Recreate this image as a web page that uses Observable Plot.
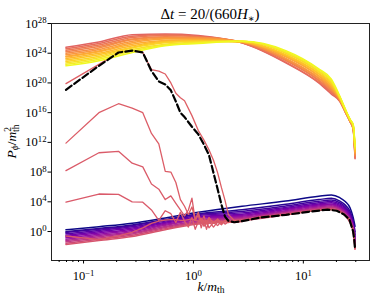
<!DOCTYPE html>
<html>
<head>
<meta charset="utf-8">
<script src="https://cdn.jsdelivr.net/npm/d3@7"></script>
<script src="https://cdn.jsdelivr.net/npm/@observablehq/plot@0.6"></script>
<style>
  html, body { margin: 0; padding: 0; background: #fff; }
</style>
</head>
<body>
<div id="chart"></div>
<script>
// ---------- data (log10 of P_phi / m_th^2) ----------
const xTicks = [0.1, 1, 10];
const xMinor = [0.06, 0.07, 0.08, 0.09, 0.2, 0.3, 0.4, 0.5, 0.6, 0.7, 0.8, 0.9, 2, 3, 4, 5, 6, 7, 8, 9, 20, 30];
const yTicks = [1e0, 1e4, 1e8, 1e12, 1e16, 1e20, 1e24, 1e28];

// k grid of the two bands of snapshots
const bandK = [0.0692, 0.138, 0.277, 0.554, 1.107, 2.77, 6.92, 13.8, 18.0, 21.5, 24.2, 26.6, 28.4, 29.55];

// early snapshots (bottom band), colour position in the time colormap
const earlyTimes = [0, 0.05, 0.1, 0.15, 0.2, 0.25, 0.3, 0.35, 0.4, 0.45, 0.5, 0.55];
const earlyLogP = [
  [0.23, 0.65, 1.12, 1.83, 2.58, 3.40, 4.10, 4.75, 4.92, 4.55, 4.00, 3.20, 1.90, 0.70],
  [-0.03, 0.41, 0.89, 1.62, 2.37, 2.94, 3.66, 4.30, 4.47, 4.10, 3.54, 2.73, 1.45, -0.03],
  [-0.13, 0.31, 0.79, 1.54, 2.29, 2.70, 3.43, 4.07, 4.23, 3.87, 3.30, 2.48, 1.22, -0.42],
  [-0.31, 0.15, 0.63, 1.40, 2.15, 2.51, 3.25, 3.88, 4.04, 3.68, 3.11, 2.28, 1.03, -0.72],
  [-0.49, -0.02, 0.47, 1.26, 2.00, 2.34, 3.09, 3.71, 3.87, 3.51, 2.94, 2.11, 0.86, -0.99],
  [-0.67, -0.19, 0.31, 1.11, 1.86, 2.19, 2.95, 3.57, 3.72, 3.37, 2.79, 1.95, 0.72, -1.23],
  [-0.85, -0.36, 0.14, 0.97, 1.72, 2.05, 2.81, 3.43, 3.59, 3.23, 2.65, 1.81, 0.58, -1.46],
  [-1.03, -0.53, -0.02, 0.83, 1.58, 1.91, 2.69, 3.30, 3.46, 3.10, 2.51, 1.68, 0.45, -1.66],
  [-1.21, -0.70, -0.18, 0.68, 1.43, 1.79, 2.57, 3.18, 3.33, 2.98, 2.39, 1.55, 0.33, -1.86],
  [-1.39, -0.86, -0.34, 0.54, 1.29, 1.67, 2.46, 3.07, 3.22, 2.87, 2.27, 1.43, 0.22, -2.05],
  [-1.57, -1.03, -0.51, 0.39, 1.14, 1.56, 2.35, 2.96, 3.11, 2.76, 2.16, 1.31, 0.11, -2.23],
  [-1.75, -1.20, -0.67, 0.25, 1.00, 1.45, 2.25, 2.85, 3.00, 2.65, 2.05, 1.20, 0.00, -2.40]
];

// late snapshots (top band)
const lateTimes = [0.6, 0.631, 0.662, 0.692, 0.723, 0.754, 0.785, 0.815, 0.846, 0.877, 0.908, 0.938, 0.969, 1.0];
const lateLogP = [
  [24.8, 25.5, 26.5, 26.6, 26.4, 25.4, 22.7, 20.0, 18.5, 17.5, 16.0, 14.8, 13.8, 9.8],
  [24.6, 25.3, 26.3, 26.5, 26.3, 25.4, 22.8, 20.1, 18.7, 17.6, 16.0, 14.8, 13.8, 9.9],
  [24.4, 25.1, 26.1, 26.4, 26.2, 25.4, 23.0, 20.3, 18.8, 17.6, 16.1, 14.8, 13.9, 10.1],
  [24.2, 24.9, 25.9, 26.2, 26.1, 25.5, 23.1, 20.4, 19.0, 17.7, 16.1, 14.9, 13.9, 10.2],
  [24.0, 24.7, 25.8, 26.1, 26.1, 25.5, 23.2, 20.6, 19.1, 17.7, 16.1, 14.9, 14.0, 10.3],
  [23.8, 24.5, 25.6, 26.0, 26.0, 25.5, 23.3, 20.7, 19.3, 17.8, 16.2, 14.9, 14.0, 10.5],
  [23.6, 24.3, 25.4, 25.9, 25.9, 25.5, 23.5, 20.9, 19.4, 17.8, 16.2, 14.9, 14.1, 10.6],
  [23.5, 24.2, 25.2, 25.7, 25.8, 25.5, 23.6, 21.0, 19.6, 17.9, 16.2, 15.0, 14.1, 10.7],
  [23.3, 24.0, 25.0, 25.6, 25.7, 25.5, 23.7, 21.2, 19.7, 17.9, 16.2, 15.0, 14.2, 10.8],
  [23.1, 23.8, 24.8, 25.5, 25.6, 25.5, 23.8, 21.3, 19.9, 18.0, 16.3, 15.0, 14.2, 11.0],
  [22.9, 23.6, 24.7, 25.4, 25.6, 25.6, 24.0, 21.5, 20.0, 18.0, 16.3, 15.0, 14.3, 11.1],
  [22.7, 23.4, 24.5, 25.2, 25.5, 25.6, 24.1, 21.6, 20.2, 18.1, 16.3, 15.1, 14.3, 11.2],
  [22.5, 23.2, 24.3, 25.1, 25.4, 25.6, 24.2, 21.8, 20.3, 18.1, 16.4, 15.1, 14.4, 11.4],
  [22.3, 23.0, 24.1, 25.0, 25.3, 25.6, 24.35, 21.9, 20.5, 18.2, 16.4, 15.1, 14.4, 11.5]
];

// intermediate (growing) snapshots on the low-k grid
const midK = [0.0692, 0.138, 0.208, 0.277, 0.346, 0.415, 0.484, 0.554, 0.623, 0.692, 0.761, 0.830, 0.900, 0.969,
              1.038, 1.107, 1.177, 1.246, 1.315, 1.384, 1.522, 1.661, 1.799, 1.938, 2.076, 2.35, 2.77];
const midTimes = [0.56, 0.565, 0.57, 0.575];
const midLogP = [
  [-0.6, -1.1, -0.6, -0.1, 0.5, 1.1, 1.4, 1.55, 1.6, 1.6, 1.5, 1.5, 1.6, 1.7, 1.5, 1.4, 1.6, 1.2, 1.5, 1.6, 1.3, 1.5, 1.3, 1.4, 1.4, 1.3, 1.4],
  [3.95, 5.05, 5.0, 4.0, 3.95, 2.9, 1.5, 2.8, 2.4, 1.2, 2.6, 1.4, 0.6, 1.9, 0.3, 1.3, 1.8, 0.7, 1.3, 0.5, 1.2, 0.8, 1.4, 1.0, 1.3, 1.2, 1.35],
  [8.2, 10.6, 10.8, 9.2, 8.7, 6.4, 5.7, 4.3, 4.8, 3.8, 2.9, 2.1, 2.9, 4.5, 1.5, 2.2, 0.5, 1.6, 0.3, 1.4, 0.6, 1.3, 0.9, 1.5, 1.3, 1.3, 1.4],
  [11.9, 16.0, 17.2, 16.6, 16.0, 13.2, 11.8, 8.1, 8.0, 6.6, 4.3, 3.4, 2.3, 3.3, 1.6, 2.6, 1.2, 2.1, 1.0, 1.9, 1.1, 1.7, 1.0, 1.5, 1.2, 1.4, 1.4]
];

// full-range grid for the last growing snapshot and the highlighted (dashed) one
const fullK = [0.0692, 0.138, 0.208, 0.277, 0.346, 0.415, 0.484, 0.554, 0.623, 0.692, 0.761, 0.830, 0.969, 1.107,
               1.246, 1.384, 1.522, 1.661, 1.799, 1.938, 2.076, 2.35, 2.77, 4.15, 6.92, 11.07, 16.6, 20.1, 23.5, 26.3, 28.4, 29.1, 29.55];
const lastMidTime = 0.585;
const lastMidLogP = [19.9, 22.5, 24.1, 24.4, 24.1, 21.8, 21.6, 21.2, 20.0, 18.6, 18.0, 17.6, 15.6, 13.6,
                     12.3, 11.0, 9.6, 7.9, 5.9, 4.2, 2.3, 1.5, 1.5, 2.0, 2.3, 2.7, 3.0, 2.85, 2.35, 1.65, 0.1, -1.1, -2.3];
const dashedLogP = [19.07, 22.3, 24.1, 24.35, 24.1, 21.6, 20.2, 19.8, 19.0, 17.5, 16.0, 15.4, 14.1, 13.1,
                    11.7, 10.3, 7.9, 5.7, 3.6, 2.0, 1.45, 1.25, 1.4, 1.9, 2.25, 2.65, 2.95, 2.8, 2.3, 1.6, 0.0, -1.2, -2.35];

// ---------- build tables ----------
const bottomRows = [], middleRows = [], topRows = [], dashedRows = [];
earlyLogP.forEach((r, i) => r.forEach((v, j) => bottomRows.push({id: "e" + i, t: earlyTimes[i], k: bandK[j], P: Math.pow(10, v)})));
midLogP.forEach((r, i) => r.forEach((v, j) => middleRows.push({id: "m" + i, t: midTimes[i], k: midK[j], P: Math.pow(10, v)})));
lastMidLogP.forEach((v, j) => middleRows.push({id: "mlast", t: lastMidTime, k: fullK[j], P: Math.pow(10, v)}));
lateLogP.forEach((r, i) => r.forEach((v, j) => topRows.push({id: "l" + i, t: lateTimes[i], k: bandK[j], P: Math.pow(10, v)})));
dashedLogP.forEach((v, j) => dashedRows.push({k: fullK[j], P: Math.pow(10, v)}));

const FONT = "'Liberation Serif', 'DejaVu Serif', serif";

const chart = Plot.plot({
  width: 376,
  height: 300,
  marginLeft: 51,
  marginRight: 7,
  marginTop: 23,
  marginBottom: 40,
  style: {fontFamily: FONT, fontSize: "12.5px", background: "white", color: "#000"},
  x: {type: "log", domain: [Math.pow(10, -1.2915), Math.pow(10, 1.602)]},
  y: {type: "log", domain: [Math.pow(10, -3.9), 1e28]},
  color: {type: "linear", scheme: "plasma", domain: [0, 1]},
  marks: [
    Plot.line(bottomRows, {x: "k", y: "P", z: "id", stroke: "t", strokeWidth: 1.5, curve: "monotone-x"}),
    Plot.line(middleRows, {x: "k", y: "P", z: "id", stroke: "t", strokeWidth: 1.3}),
    Plot.line(topRows, {x: "k", y: "P", z: "id", stroke: "t", strokeWidth: 1.5, curve: "monotone-x"}),
    Plot.line(dashedRows, {x: "k", y: "P", stroke: "#000", strokeWidth: 2.2, strokeDasharray: "7,3.2"}),
    Plot.frame({stroke: "#222", strokeWidth: 1}),
    Plot.axisX({ticks: xMinor, tickSize: 2, tickFormat: () => "", label: null}),
    Plot.axisX({ticks: xTicks, tickSize: 3.5, tickPadding: 7, label: null,
                tickFormat: d => String(Math.round(Math.log10(d))).replace("-", "\u2212")}),
    Plot.axisY({ticks: yTicks, tickSize: 3.5, tickPadding: 1.5, label: null,
                tickFormat: d => String(Math.round(Math.log10(d)))})
  ]
});

document.getElementById("chart").appendChild(chart);

// ---------- exponent tick labels and math-style labels ----------
const svgSel = d3.select(chart);
svgSel.selectAll('g[aria-label="x-axis tick label"] text, g[aria-label="y-axis tick label"] text').each(function () {
  const s = this.textContent;
  if (!s) return;
  const t = d3.select(this);
  t.text(null);
  t.append("tspan").text("10");
  t.append("tspan").attr("dy", "-0.5em").attr("font-size", "0.7em").text(s);
});

// title
const titleSel = svgSel.append("text").attr("x", 210).attr("y", 19).attr("text-anchor", "middle")
  .attr("font-family", FONT).attr("font-size", 15).attr("fill", "#000");
titleSel.append("tspan").text("\u0394");
titleSel.append("tspan").attr("font-style", "italic").text("t");
titleSel.append("tspan").text(" = 20/(660");
titleSel.append("tspan").attr("font-style", "italic").text("H");
titleSel.append("tspan").attr("font-size", 10).attr("dy", 3).text("\u2217");
titleSel.append("tspan").attr("dy", -3).text(")");

// x label
const xl = svgSel.append("text").attr("x", 211).attr("y", 290.5).attr("text-anchor", "middle")
  .attr("font-family", FONT).attr("font-size", 13.5).attr("fill", "#000");
xl.append("tspan").attr("font-style", "italic").text("k");
xl.append("tspan").text("/");
xl.append("tspan").attr("font-style", "italic").text("m");
xl.append("tspan").attr("font-size", 9.5).attr("dy", 2.5).text("th");

// y label
const yl = svgSel.append("text").attr("transform", "translate(15.5,141.5) rotate(-90)").attr("text-anchor", "middle")
  .attr("font-family", FONT).attr("font-size", 13.5).attr("fill", "#000");
yl.append("tspan").attr("font-style", "italic").text("P");
yl.append("tspan").attr("font-style", "italic").attr("font-size", 9.5).attr("dy", 2.5).text("\u03d5");
yl.append("tspan").attr("dy", -2.5).text("/");
yl.append("tspan").attr("font-style", "italic").text("m");
yl.append("tspan").attr("font-size", 9.5).attr("dy", -5).text("2");
yl.append("tspan").attr("font-size", 9.5).attr("dx", -5).attr("dy", 8).text("th");
</script>
</body>
</html>
